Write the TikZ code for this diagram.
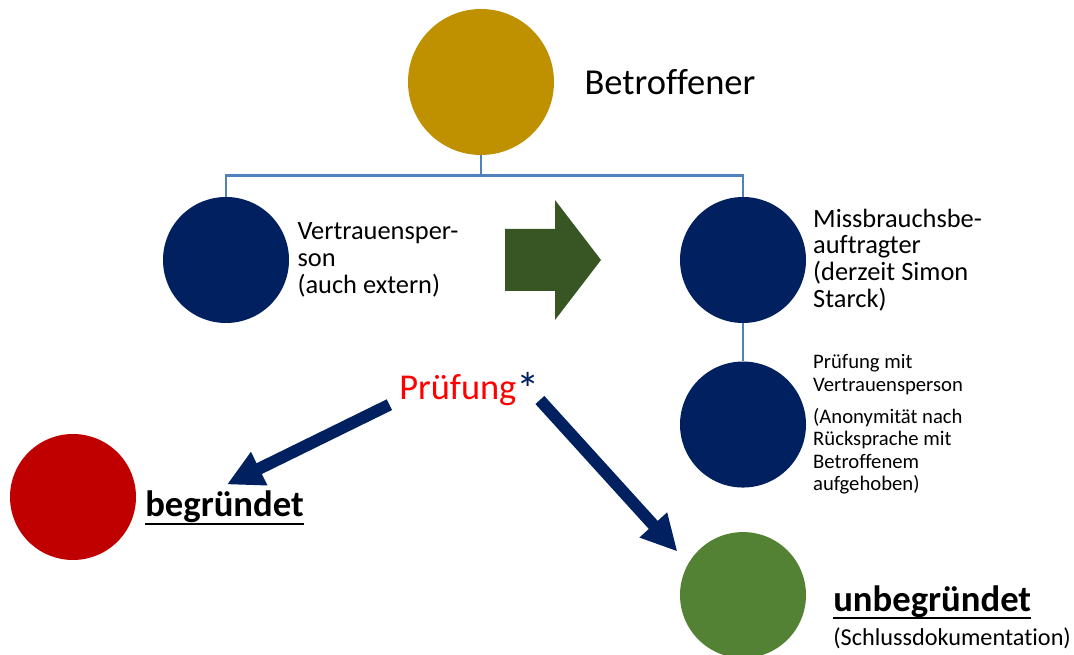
\documentclass[tikz,border=0pt]{standalone}
\usepackage{fontspec}
\setmainfont{Carlito}[Ligatures=NoCommon]
\newcommand{\ulword}[1]{\setbox0\hbox{#1}\rlap{\rule[-6pt]{\wd0}{1.5pt}}\box0}
\usetikzlibrary{arrows.meta, positioning}
\definecolor{gold}{HTML}{BF9000}
\definecolor{navy}{HTML}{002060}
\definecolor{darkred}{HTML}{C00000}
\definecolor{leaf}{HTML}{548235}
\definecolor{moss}{HTML}{375623}
\definecolor{steel}{HTML}{4F81BD}
\tikzstyle{person} = [circle, minimum size=94.5pt, inner sep=0pt, fill=navy]
\tikzstyle{caption} = [inner sep=0pt, align=left, font=\fontsize{19.8pt}{20pt}\selectfont]
\tikzstyle{outcome} = [inner xsep=0pt, inner ysep=0pt, anchor=base west, font=\fontsize{27.5pt}{28pt}\selectfont\bfseries]
\tikzstyle{link} = [draw=steel, line width=2pt]
\tikzstyle{verdict} = [draw=navy, line width=9pt, -{Triangle[length=27pt, width=26pt]}]
\tikzstyle{handover} = [fill=moss]

\begin{document}
\begin{tikzpicture}[x=0.75pt, y=-0.75pt]
    \useasboundingbox (0,0) rectangle (1074,655);

    % Circles.
    \node (affected) [person, minimum size=109.5pt, fill=gold] at (481,82) {};
    \node (trust) [person] at (226,260) {};
    \node (officer) [person] at (743,260) {};
    \node (review) [person, below=28.5pt of officer] {};
    \node (final) [person, fill=leaf, below=33pt of review] {};
    \node (founded) [person, fill=darkred] at (73,497) {};

    % Labels.
    \node (affectedtext) [caption, font=\fontsize{27.4pt}{28pt}\selectfont, right=22.5pt of affected] {Betroffener};
    \node (trusttext) [caption, right=6pt of trust] {Vertrauensper-\\son\\(auch extern)};
    \node (officertext) [caption, right=5pt of officer] {Missbrauchsbe-\\auftragter\\(derzeit Simon\\Starck)};
    \node (reviewtext) [caption, font=\fontsize{15.5pt}{16.9pt}\selectfont, right=5pt of review]
        {Prüfung mit\\Vertrauensperson\\[7pt](Anonymität nach\\Rücksprache mit\\Betroffenem\\aufgehoben)};
    \node (check) [inner sep=0pt, anchor=base west, text=red, font=\fontsize{27.3pt}{28pt}\selectfont] at (399,400)
        {Prüfung\textcolor{navy}{\fontsize{35pt}{35pt}\selectfont\raisebox{-4pt}{*}}};
    \node (foundedtext) [outcome, inner ysep=4pt] at (145,517) {\ulword{begründet}};
    \node (finaltext) [outcome] at (833,611) {\ulword{unbegründet}};
    \node (closing) [inner sep=0pt, anchor=base west, font=\fontsize{18.2pt}{19pt}\selectfont] at (833,645)
        {(Schlussdokumentation)};

    % Tree.
    \draw [link] (affected.south) -- ++(0,20) coordinate (fork);
    \draw [link] (fork) -| (trust.north);
    \draw [link] (fork) -| (officer.north);
    \draw [link] (officer) -- (review);

    % Arrows.
    \fill [handover] (505,229) -- (555,229) -- (555,200) -- (601,260) -- (555,320) -- (555,291) -- (505,291) -- cycle;
    \draw [verdict, shorten <=8pt, shorten >=2pt] (check.base west) -- (foundedtext.north);
    \draw [verdict, shorten >=12pt] (check.base east) -- (final.150);
\end{tikzpicture}
\end{document}
